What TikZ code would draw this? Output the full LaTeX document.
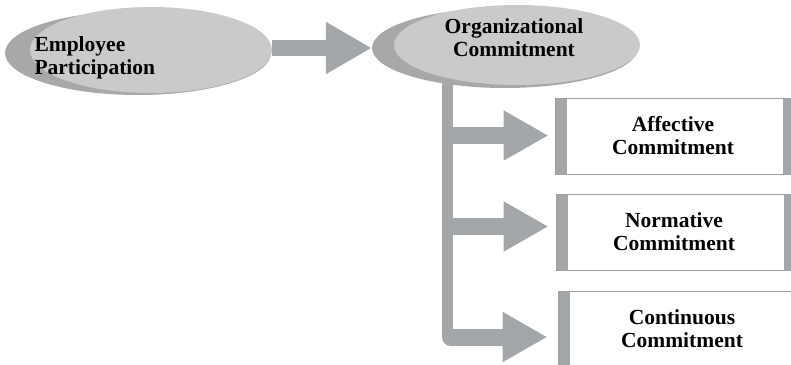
\documentclass[tikz,border=0pt]{standalone}
\usepackage{fontspec}
\setmainfont{Liberation Serif}
\usetikzlibrary{arrows.meta,shapes.geometric,backgrounds,positioning}

\definecolor{ovalgray}{RGB}{202,202,203}
\definecolor{shadegray}{RGB}{166,168,170}
\definecolor{arrowgray}{RGB}{164,167,169}
\definecolor{linegray}{RGB}{158,158,160}

\begin{document}
\begin{tikzpicture}[x=1pt,y=-1pt,
  every node/.style={font=\fontsize{21.5}{23}\selectfont\bfseries},
  oval/.style={ellipse,fill=ovalgray,inner sep=0pt},
  ovalback/.style={ellipse,fill=shadegray,inner sep=0pt},
  commitbox/.style={rectangle,draw=linegray,line width=1pt,inner sep=0pt,
    minimum width=236pt,minimum height=76pt,align=center,
    path picture={
      \fill[arrowgray] (path picture bounding box.north west)
        rectangle ([xshift=12pt]path picture bounding box.south west);
      \fill[arrowgray] ([xshift=-8pt]path picture bounding box.north east)
        rectangle (path picture bounding box.south east);
    }},
  blockarrow/.style={draw=arrowgray,line width=16pt,-{Triangle[length=46pt,width=49pt]}},
  trunk/.style={draw=arrowgray,line width=11pt},
  branch/.style={draw=arrowgray,line width=17pt,-{Triangle[length=45pt,width=47pt]}}]
  \useasboundingbox (0,0) rectangle (791,364);
  \clip (0,0) rectangle (791,364);

  % the two ovals, each with its darker shade behind
  \node[ovalback,minimum width=266pt,minimum height=84pt] (empback) at (138,53) {};
  \node[oval,minimum width=242pt,minimum height=86pt] (emp) at (151,50) {};
  \node[anchor=west,align=left] (empText) at (31,58) {Employee\\Participation};

  \node[ovalback,minimum width=266pt,minimum height=80pt] (orgback) at (505,48) {};
  \node[oval,minimum width=246pt,minimum height=80pt] (org) at (517,45) {};
  \node[align=center] (orgText) at (514,38) {Organizational\\Commitment};

  % the three kinds of commitment
  \node[commitbox] (aff) at (673,136) {Affective\\Commitment};
  \node[commitbox] (norm) at (674,232) {Normative\\Commitment};
  \node[commitbox,minimum width=248pt] (cont) at (682,329) {Continuous\\Commitment};

  \coordinate (top) at (447.5,60);
  \coordinate (b1) at (447.5,135.5);
  \coordinate (b2) at (447.5,226.5);
  \coordinate (b3) at (447.5,337);

  \begin{scope}[on background layer]
    \draw[blockarrow] (emp.east |- orgback.west) -- (orgback.west);
    \draw[trunk] (top) -- (b3);
    \draw[branch] ([xshift=-5.5pt]b1) -- ([xshift=-6pt]aff.west |- b1);
    \draw[branch] ([xshift=-5.5pt]b2) -- ([xshift=-7pt]norm.west |- b2);
    \draw[branch,line cap=round] ([xshift=3pt]b3) -- ([xshift=-10pt]cont.west |- b3);
  \end{scope}
\end{tikzpicture}
\end{document}
